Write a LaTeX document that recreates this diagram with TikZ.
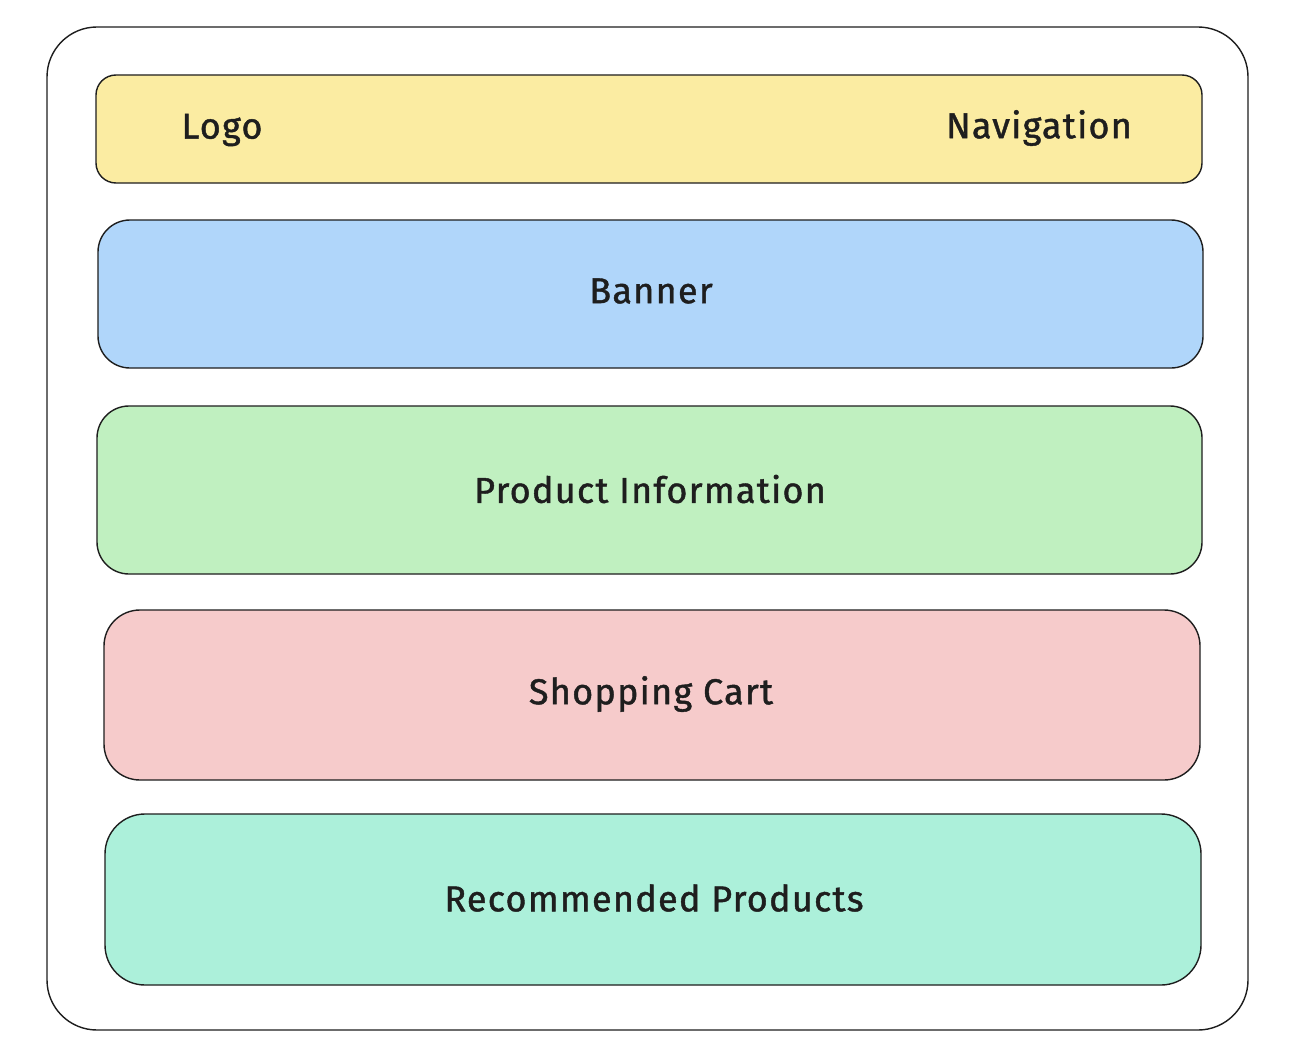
\documentclass[tikz,border=0pt]{standalone}
\usepackage{fontspec}
\setmainfont{Fira Sans}[LetterSpace=3.5,FakeBold=1.2]
\definecolor{ink}{HTML}{1E1E1E}
\definecolor{cyellow}{HTML}{FBECA2}
\definecolor{cblue}{HTML}{B0D6FA}
\definecolor{cgreen}{HTML}{C0F0C0}
\definecolor{cred}{HTML}{F6CBCB}
\definecolor{cteal}{HTML}{ACF0DA}
\begin{document}
\begin{tikzpicture}[x=1pt,y=-1pt,
  panel/.style={draw=ink,line width=1.4pt},
  lbl/.style={font=\fontsize{36}{40}\selectfont,text=ink,inner sep=0pt}]
\useasboundingbox (0,0) rectangle (1308,1062);
\draw[panel,fill=white,rounded corners=50] (47,27) rectangle (1248,1030);
\draw[panel,fill=cyellow,rounded corners=20] (96,75) rectangle (1202,183);
\draw[panel,fill=cblue,rounded corners=32] (98,220) rectangle (1203,368);
\draw[panel,fill=cgreen,rounded corners=32] (97,406) rectangle (1202,574);
\draw[panel,fill=cred,rounded corners=36] (104,610) rectangle (1200,780);
\draw[panel,fill=cteal,rounded corners=40] (105,814) rectangle (1201,985);
\node[lbl] (logo) at (222,130) {Logo};
\node[lbl] (nav) at (1039,128) {Navigation};
\node[lbl] (banner) at (651,291) {Banner};
\node[lbl] (prod) at (650,489) {Product Information};
\node[lbl] (cart) at (651,694) {Shopping Cart};
\node[lbl] (rec) at (654,898) {Recommended Products};
\end{tikzpicture}
\end{document}
